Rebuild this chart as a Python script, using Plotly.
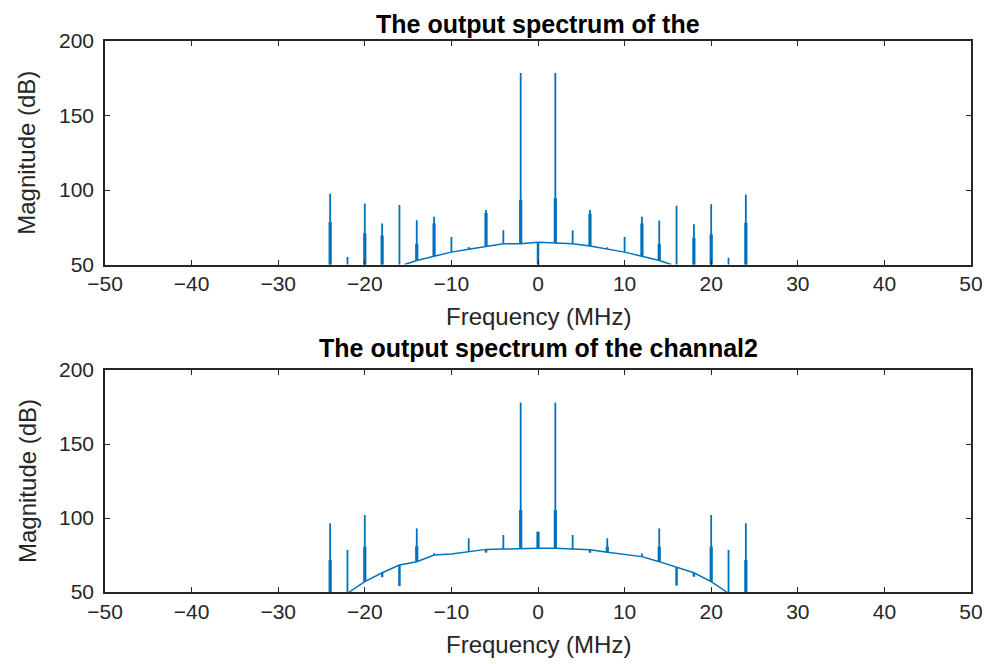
import numpy as np
import plotly.graph_objects as go

# ---------------- data ----------------
# Panel 1: noise-floor curve
top_floor_f = [-15.4, -14, -12, -10, -8, -6, -4, -2, 0, 2, 4, 6, 8, 10, 12, 14, 15.4]
top_floor_db = [50, 52.7, 55.6, 58.3, 60.3, 62.4, 64, 64, 65, 64.5, 64, 62.4, 60.5, 58.3, 55.6, 52.7, 50]
# Panel 1: spectral lines (peak, lower adjacent bin; None = no second bin)
top_spike_f = [-24, -22, -20, -18, -16, -14, -12, -10, -8, -6, -4, -2, 2, 4, 6, 8, 10, 12, 14, 16, 18, 20, 22, 24]
top_spike_db = [97.5, 55, 91, 77.5, 90, 79.7, 82, 68.5, 61.7, 86.5, 73, 178.5, 178.5, 73, 86.5, 61.5, 68.5, 82, 79.5, 89.5, 77, 90.5, 54.6, 97]
top_spike_db2 = [78.5, None, 71, 69.5, None, 64, 77.5, None, None, 84.5, None, 93.5, 94.5, None, 84, None, None, 77.5, 64, None, 68, 70.3, None, 78]
# Panel 1: downward notches (frequency, lowest level)
top_dip_f = [0]
top_dip_db = [45]

# Panel 2: noise-floor curve
bot_floor_f = [-21.8, -20, -18, -16, -14, -12, -10, -8, -6, -4, -2, 0, 2, 4, 6, 8, 10, 12, 14, 16, 18, 20, 21.8]
bot_floor_db = [50, 57, 63, 68.2, 70.5, 75, 75.7, 77.2, 78.8, 79, 79.5, 79.5, 79.5, 78.8, 78.5, 76.8, 75.5, 73.9, 70.5, 66.7, 63, 57, 50]
# Panel 2: spectral lines
bot_spike_f = [-24, -22, -20, -14, -12, -8, -4, -2, 0, 2, 4, 8, 12, 14, 20, 22, 24]
bot_spike_db = [96.4, 78.4, 102, 93, 76.1, 86.3, 88.5, 178, 90.7, 178, 88.5, 86.3, 76, 93, 102, 78.4, 96.4]
bot_spike_db2 = [71.6, None, 80.6, 81, None, None, None, 105.4, 90.7, 105.4, None, 80.6, None, 80.6, 80.6, None, 71.6]
# Panel 2: downward notches
bot_dip_f = [-18, -16, -6, 6, 16, 18]
bot_dip_db = [60, 54, 76.6, 76.5, 54.3, 60.3]

titles = ["The output spectrum of the", "The output spectrum of the channal2"]
x_label = "Frequency (MHz)"
y_label = "Magnitude (dB)"
x_ticks = [-50, -40, -30, -20, -10, 0, 10, 20, 30, 40, 50]
y_ticks = [50, 100, 150, 200]
x_range = [-50, 50]
y_range = [50, 200]

# ---------------- style ----------------
BLUE = "#0072BD"
AX = "#262626"
FONT = "Liberation Sans, Arial, Helvetica, sans-serif"
W, H = 991, 664
OFF = 8                      # page body margin offsets the figure by 8 px
X0, X1 = 105 - OFF, 971 - OFF
PANELS = [(41 - OFF, 264.5 - OFF), (370 - OFF, 592 - OFF)]   # pixel top/bottom of each axes box


def segs(fs, tops, floor_f, floor_db):
    xs, ys = [], []
    for f, t in zip(fs, tops):
        if t is None:
            continue
        base = float(np.interp(f, floor_f, floor_db, left=y_range[0] - 10, right=y_range[0] - 10))
        xs += [f, f, None]
        ys += [base, t, None]
    return xs, ys


fig = go.Figure()
data = [
    (top_floor_f, top_floor_db, top_spike_f, top_spike_db, top_spike_db2, top_dip_f, top_dip_db),
    (bot_floor_f, bot_floor_db, bot_spike_f, bot_spike_db, bot_spike_db2, bot_dip_f, bot_dip_db),
]
for i, (ff, fd, sf, sd, sd2, df, dd) in enumerate(data):
    xa = "x" if i == 0 else "x2"
    ya = "y" if i == 0 else "y2"
    fig.add_trace(go.Scatter(x=ff, y=fd, mode="lines", line=dict(color=BLUE, width=1.5),
                             xaxis=xa, yaxis=ya, showlegend=False, hoverinfo="skip"))
    xs, ys = segs(sf, sd, ff, fd)
    fig.add_trace(go.Scatter(x=xs, y=ys, mode="lines", line=dict(color=BLUE, width=1.8),
                             xaxis=xa, yaxis=ya, showlegend=False, hoverinfo="skip"))
    xs, ys = segs(sf, sd2, ff, fd)
    fig.add_trace(go.Scatter(x=xs, y=ys, mode="lines", line=dict(color=BLUE, width=3.2),
                             xaxis=xa, yaxis=ya, showlegend=False, hoverinfo="skip"))
    xs, ys = segs(df, dd, ff, fd)
    fig.add_trace(go.Scatter(x=xs, y=ys, mode="lines", line=dict(color=BLUE, width=2.5),
                             xaxis=xa, yaxis=ya, showlegend=False, hoverinfo="skip"))

axis_common = dict(showline=True, linecolor=AX, linewidth=1.5, mirror="ticks",
                   ticks="inside", ticklen=5, tickwidth=1.2, tickcolor=AX,
                   showgrid=False, zeroline=False, automargin=False,
                   tickfont=dict(family=FONT, size=21, color=AX))

layout = dict(template="none", width=W, height=H, margin=dict(l=0, r=0, t=0, b=0, pad=0),
              paper_bgcolor="white", plot_bgcolor="white", showlegend=False)
annotations = []
for i, (pt, pb) in enumerate(PANELS):
    sfx = "" if i == 0 else "2"
    layout["xaxis" + sfx] = dict(axis_common, domain=[X0 / W, X1 / W], range=x_range,
                                 tickvals=x_ticks, ticklabelstandoff=0,
                                 anchor="y" + sfx)
    layout["yaxis" + sfx] = dict(axis_common, domain=[1 - pb / H, 1 - pt / H], range=y_range,
                                 tickvals=y_ticks, ticklabelstandoff=5,
                                 anchor="x" + sfx)
    if i == 0:
        title_pos = dict(y=1.0, yanchor="top")
    else:
        title_pos = dict(y=1 - (pt - 22) / H, yanchor="middle")
    annotations.append(dict(text="<b>" + titles[i] + "</b>", x=(X0 + X1) / 2 / W,
                            xref="paper", yref="paper", xanchor="center",
                            showarrow=False, font=dict(family=FONT, size=25, color="black"),
                            **title_pos))
    annotations.append(dict(text=x_label, x=(X0 + X1) / 2 / W, y=1 - (pb + 52) / H,
                            xref="paper", yref="paper", xanchor="center", yanchor="middle",
                            showarrow=False, font=dict(family=FONT, size=24, color=AX)))
    annotations.append(dict(text=y_label, x=(27 - OFF) / W, y=1 - (pt + pb) / 2 / H,
                            xref="paper", yref="paper", xanchor="center", yanchor="middle",
                            textangle=-90, showarrow=False,
                            font=dict(family=FONT, size=24, color=AX)))
layout["annotations"] = annotations
fig.update_layout(**layout)
fig.write_html("out.html")
